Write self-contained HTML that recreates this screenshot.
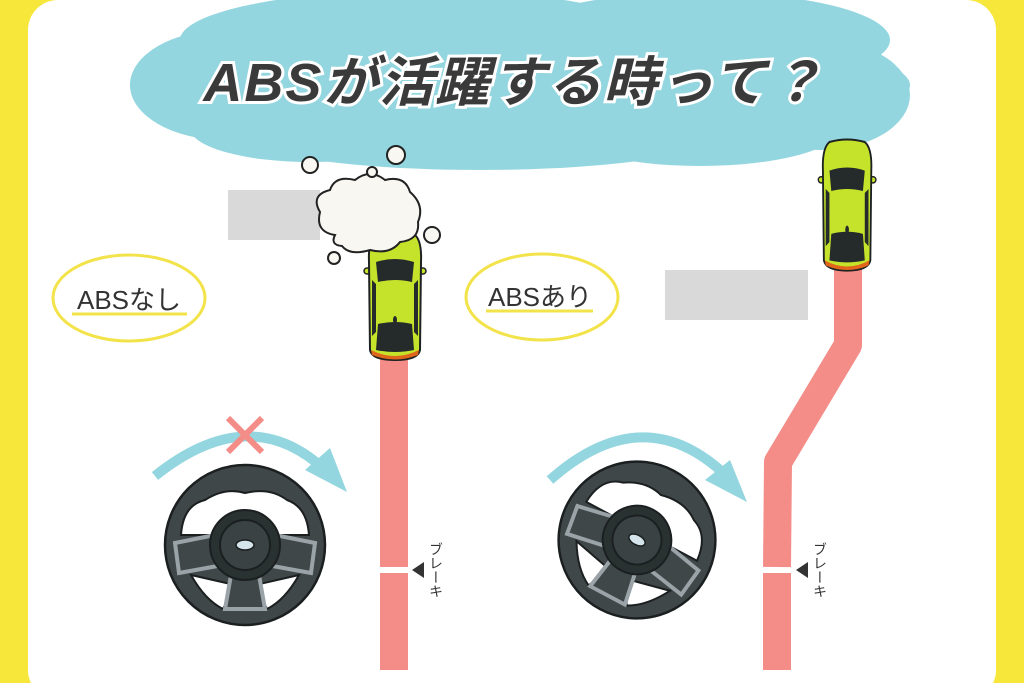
<!DOCTYPE html>
<html><head><meta charset="utf-8"><style>
html,body{margin:0;padding:0;width:1024px;height:683px;overflow:hidden;background:#f7e73a}
svg{display:block}
.bk{font-family:'Liberation Sans','Noto Sans CJK JP',sans-serif;font-size:14px;fill:#333;writing-mode:tb;}
</style></head><body>
<svg width="1024" height="683" viewBox="0 0 1024 683" xmlns="http://www.w3.org/2000/svg">
<defs>
<g id="car">
<rect x="-4" y="36" width="10" height="6" rx="3" fill="#c4e32a" stroke="#222" stroke-width="1.5"/>
<rect x="48" y="36" width="10" height="6" rx="3" fill="#c4e32a" stroke="#222" stroke-width="1.5"/>
<path d="M8 2 Q27 -3 46 2 Q54 8 53 30 L52 118 Q50 128 27 128 Q4 128 2 118 L1 30 Q0 8 8 2Z" fill="#c4e32a" stroke="#1e2222" stroke-width="2"/>
<path d="M3 118 Q27 130 51 118 L50 123 Q27 132 4 123Z" fill="#e0661c"/>
<path d="M8 30 Q27 24 46 30 L44 50 Q27 46 10 50Z" fill="#252b2b"/>
<path d="M4 48 L8 52 L8 100 L4 104Z M50 48 L46 52 L46 100 L50 104Z" fill="#252b2b"/>
<path d="M10 92 Q27 88 44 92 L46 118 Q27 122 8 118Z" fill="#252b2b"/>
<ellipse cx="27" cy="88" rx="2" ry="4" fill="#252b2b"/>
</g>
<g id="wheel">
<circle r="80" fill="#3f4748" stroke="#1b1f20" stroke-width="2.5"/>
<path d="M-64 -10 Q-62 -40 -40 -45 Q-20 -58 0 -52 Q25 -58 42 -45 Q62 -38 64 -10 Z" fill="#fff" stroke="#1b1f20" stroke-width="2"/>
<path d="M-54 30 Q-40 55 -22 64 L-10 40Z" fill="#fff" stroke="#1b1f20" stroke-width="2"/>
<path d="M54 30 Q40 55 22 64 L10 40Z" fill="#fff" stroke="#1b1f20" stroke-width="2"/>
<path d="M-70 -2 L-30 -10 L-22 20 L-66 28Z" fill="#3f4748" stroke="#9aa3a8" stroke-width="4"/>
<path d="M70 -2 L30 -10 L22 20 L66 28Z" fill="#3f4748" stroke="#9aa3a8" stroke-width="4"/>
<path d="M-14 30 L14 30 L20 64 L-20 64Z" fill="#3f4748" stroke="#9aa3a8" stroke-width="4"/>
<circle r="35" fill="#2a3131" stroke="#1b1f20" stroke-width="2"/>
<circle r="25" fill="#3a4243" stroke="#1b1f20" stroke-width="2"/>
<ellipse rx="9" ry="5" fill="#d5e3ea" stroke="#1b1f20" stroke-width="1.5"/>
</g>
</defs>
<rect x="28" y="0" width="968" height="700" rx="30" fill="#fff"/>
<!-- cloud -->
<g fill="#93d6df">
<ellipse cx="520" cy="85" rx="390" ry="60"/>
<ellipse cx="420" cy="40" rx="240" ry="50"/>
<ellipse cx="700" cy="40" rx="190" ry="48"/>
<ellipse cx="225" cy="85" rx="95" ry="55"/>
<ellipse cx="820" cy="95" rx="90" ry="55"/>
<ellipse cx="480" cy="130" rx="250" ry="40"/>
<ellipse cx="700" cy="128" rx="140" ry="38"/>
<ellipse cx="310" cy="128" rx="120" ry="34"/>
</g>
<text x="514" y="101" text-anchor="middle" font-family="'Liberation Sans','Noto Sans CJK JP',sans-serif" font-size="54" font-weight="bold" font-style="italic" fill="#3a3a3a" stroke="#fff" stroke-width="6" paint-order="stroke" letter-spacing="2">ABSが活躍する時って？</text>
<!-- gray rects -->
<rect x="228" y="190" width="92" height="50" fill="#d9d9d9"/>
<rect x="665" y="270" width="143" height="50" fill="#d9d9d9"/>
<!-- ovals -->
<ellipse cx="129" cy="298" rx="76" ry="43" fill="none" stroke="#f3e34a" stroke-width="3"/>
<ellipse cx="542" cy="297" rx="76" ry="43" fill="none" stroke="#f3e34a" stroke-width="3"/>
<line x1="72" y1="314" x2="187" y2="314" stroke="#f3e34a" stroke-width="3"/>
<line x1="486" y1="311" x2="593" y2="311" stroke="#f3e34a" stroke-width="3"/>
<text x="129" y="309" text-anchor="middle" font-family="'Liberation Sans','Noto Sans CJK JP',sans-serif" font-size="26" fill="#333">ABSなし</text>
<text x="540" y="306" text-anchor="middle" font-family="'Liberation Sans','Noto Sans CJK JP',sans-serif" font-size="26" fill="#333">ABSあり</text>
<!-- tracks -->
<rect x="380" y="355" width="28" height="212" fill="#f48d88"/>
<rect x="380" y="573" width="28" height="97" fill="#f48d88"/>
<path d="M848 262 L848 345 L778 462 L777 567" fill="none" stroke="#f48d88" stroke-width="28" stroke-linejoin="round"/>
<rect x="763" y="573" width="28" height="97" fill="#f48d88"/>
<!-- brake labels -->
<path d="M412 570 L424 562 L424 578Z" fill="#333"/>
<path d="M796 570 L808 562 L808 578Z" fill="#333"/>
<text x="436" y="542" class="bk">ブレーキ</text>
<text x="820" y="542" class="bk">ブレーキ</text>
<!-- cars -->
<use href="#car" transform="translate(368,232)"/>
<use href="#car" transform="translate(822,140) scale(0.93,1.02)"/>
<!-- smoke -->
<g fill="#f8f7f2" stroke="#222" stroke-width="2">
<path d="M335 235 Q315 232 320 212 Q310 195 330 190 Q335 175 355 180 Q370 168 385 180 Q405 175 410 192 Q425 205 418 222 Q420 240 400 242 Q390 255 370 250 Q350 256 342 246 Q330 245 335 235Z"/>
<circle cx="310" cy="165" r="8"/><circle cx="372" cy="172" r="5"/>
<circle cx="396" cy="155" r="9"/><circle cx="432" cy="235" r="8"/><circle cx="334" cy="258" r="6"/>
</g>
<!-- steering wheels -->
<use href="#wheel" transform="translate(245,545)"/>
<use href="#wheel" transform="translate(637,540) rotate(28) scale(0.98)"/>
<!-- arrows -->
<path d="M155 476 Q250 400 325 470" fill="none" stroke="#93d6df" stroke-width="10"/>
<path d="M330 448 L347 492 L305 470Z" fill="#93d6df"/>
<path d="M550 480 Q640 400 720 470" fill="none" stroke="#93d6df" stroke-width="10"/>
<path d="M730 460 L747 502 L705 480Z" fill="#93d6df"/>
<!-- X -->
<path d="M228 418 L262 452 M262 418 L228 452" stroke="#f48d88" stroke-width="6"/>
</svg>
</body></html>
